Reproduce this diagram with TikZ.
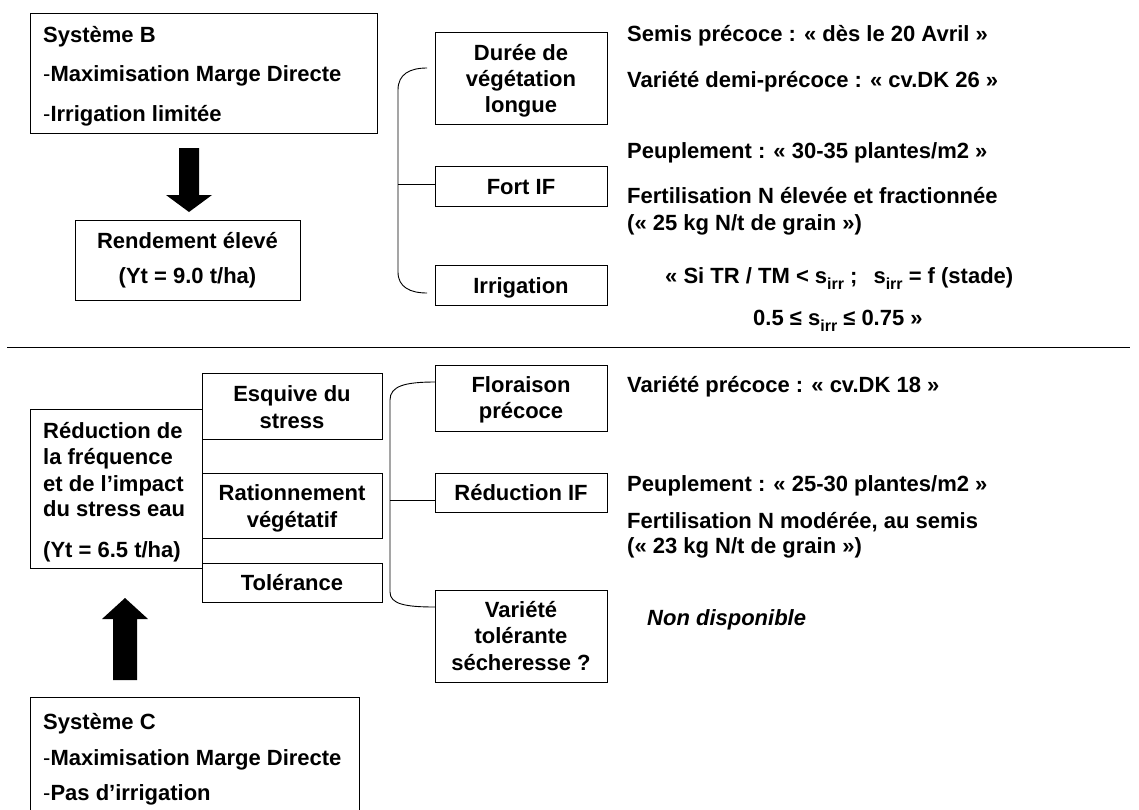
\documentclass[tikz,border=0pt]{standalone}
\usepackage{fontspec}
\setmainfont{Liberation Sans}
\newcommand\fs{\fontsize{22}{26}\selectfont\bfseries}
\newcommand\sirr{s\raisebox{-0.3em}{\fontsize{16}{16}\selectfont irr}}
\newcommand\dsh{{\mdseries -}}
\begin{document}
\begin{tikzpicture}[x=1pt,y=-1pt,
  box/.style={draw, line width=1.1pt, inner sep=0, anchor=north west},
  t/.style={inner sep=0, anchor=base west, font=\fs},
  tc/.style={inner sep=0, anchor=base, font=\fs},
  brk/.style={line width=0.9pt},
  blk/.style={fill=black, draw=none}]
\useasboundingbox (0,0) rectangle (1139,809);

% ---------- top half ----------
\node[box, minimum width=347pt, minimum height=120pt] (sysB) at (30,13) {};
\node[t] (sysB1) at (43,42) {Système B};
\node[t] (sysB2) at (43,81) {\dsh Maximisation Marge Directe};
\node[t] (sysB3) at (43,121) {\dsh Irrigation limitée};

\fill[blk] (179,148) -- (199,148) -- (199,195) -- (212,195) -- (189,212) -- (166,195) -- (179,195) -- cycle;

\node[box, minimum width=225pt, minimum height=80pt] (rend) at (75,220) {};
\node[tc] (rend1) at (187.5,248) {Rendement élevé};
\node[tc] (rend2) at (187.5,283) {(Yt = 9.0 t/ha)};

\node[box, minimum width=172pt, minimum height=92pt] (dur) at (435,32) {};
\node[tc] (dur1) at (521,60) {Durée de};
\node[tc] (dur2) at (521,86) {végétation};
\node[tc] (dur3) at (521,112) {longue};
\node[box, minimum width=172pt, minimum height=40pt] (fort) at (435,166) {};
\node[tc] (fort1) at (521,194) {Fort IF};
\node[box, minimum width=172pt, minimum height=40pt] (irr) at (435,265) {};
\node[tc] (irr1) at (521,293) {Irrigation};

\coordinate (bt1) at (427,68);
\coordinate (bt2) at (427,293);
\draw[brk] (bt1) .. controls (410,68) and (398,74) .. (398,90) -- (398,272)
  .. controls (398,287) and (410,293) .. (bt2);
\draw[brk] (398,184) -- (fort.west |- 0,184);

\node[t] (r1) at (627,41) {Semis précoce : « dès le 20 Avril »};
\node[t] (r2) at (627,87) {Variété demi-précoce : « cv.DK 26 »};
\node[t] (r3) at (627,158) {Peuplement : « 30-35 plantes/m2 »};
\node[t] (r4) at (627,203) {Fertilisation N élevée et fractionnée};
\node[t] (r5) at (627,230) {(« 25 kg N/t de grain »)};
\node[t] (r6) at (665,283) {« Si TR / TM < \sirr\ ;\hspace{16pt}\sirr\ = f (stade)};
\node[t] (r7) at (753,325) {0.5 ≤ \sirr\ ≤ 0.75 »};

\draw[line width=1pt] (7,347) -- (1130,347);

% ---------- bottom half ----------
\node[box, minimum width=172pt, minimum height=159pt] (redu) at (30,409) {};
\node[t] (redu1) at (43,438) {Réduction de};
\node[t] (redu2) at (43,464) {la fréquence};
\node[t] (redu3) at (43,491) {et de l’impact};
\node[t] (redu4) at (43,516) {du stress eau};
\node[t] (redu5) at (43,557) {(Yt = 6.5 t/ha)};

\node[box, minimum width=180pt, minimum height=66pt] (esq) at (202,373) {};
\node[tc] (esq1) at (292,401) {Esquive du};
\node[tc] (esq2) at (292,428) {stress};
\node[box, minimum width=180pt, minimum height=65pt] (rat) at (202,473) {};
\node[tc] (rat1) at (292,500) {Rationnement};
\node[tc] (rat2) at (292,527) {végétatif};
\node[box, minimum width=180pt, minimum height=39pt] (tol) at (202,563) {};
\node[tc] (tol1) at (292,590) {Tolérance};

\node[box, minimum width=172pt, minimum height=66pt] (flo) at (435,365) {};
\node[tc] (flo1) at (521,392) {Floraison};
\node[tc] (flo2) at (521,418) {précoce};
\node[box, minimum width=172pt, minimum height=39pt] (rif) at (435,473) {};
\node[tc] (rif1) at (521,500) {Réduction IF};
\node[box, minimum width=172pt, minimum height=92pt] (vtol) at (435,590) {};
\node[tc] (vtol1) at (521,617) {Variété};
\node[tc] (vtol2) at (521,643) {tolérante};
\node[tc] (vtol3) at (521,670) {sécheresse ?};

\coordinate (bb1) at (flo.west |- 0,382);
\coordinate (bb2) at (vtol.west |- 0,607);
\draw[brk] (bb1) .. controls (405,382) and (390,386) .. (390,400) -- (390,592)
  .. controls (390,604) and (405,607) .. (bb2);
\draw[brk] (390,500) -- (rif.west |- 0,500);

\node[t] (b1) at (627,392) {Variété précoce : « cv.DK 18 »};
\node[t] (b2) at (627,491) {Peuplement : « 25-30 plantes/m2 »};
\node[t] (b3) at (627,528) {Fertilisation N modérée, au semis};
\node[t] (b4) at (627,553) {(« 23 kg N/t de grain »)};
\node[t] (b5) at (647,625) {\itshape Non disponible};

\fill[blk] (113,680) -- (137,680) -- (137,619) -- (148,619) -- (125,598) -- (102,619) -- (113,619) -- cycle;

\node[box, minimum width=329pt, minimum height=140pt] (sysC) at (30,697) {};
\node[t] (sysC1) at (43,729) {Système C};
\node[t] (sysC2) at (43,765) {\dsh Maximisation Marge Directe};
\node[t] (sysC3) at (43,800) {\dsh Pas d’irrigation};
\end{tikzpicture}
\end{document}
